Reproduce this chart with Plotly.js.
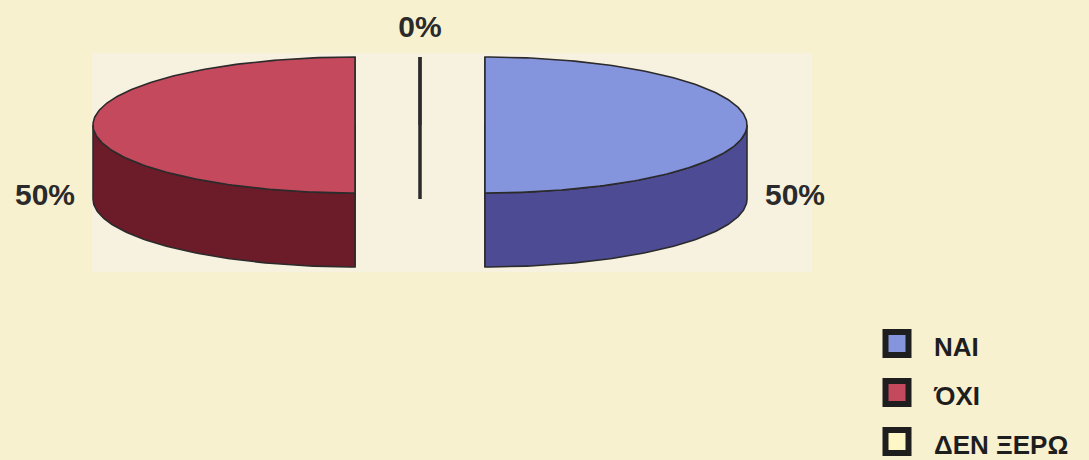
<!DOCTYPE html>
<html>
<head>
<meta charset="utf-8">
<script src="https://cdn.plot.ly/plotly-3.0.1.min.js"></script>
<style>
  html, body { margin: 0; padding: 0; background: #f8f1d0; }
  #chart { width: 1089px; height: 460px; }
</style>
</head>
<body>
<div id="chart"></div>
<script>
// Survey answers
const categories = ['NAI', 'ΌΧΙ', 'ΔΕΝ ΞΕΡΩ'];
const values = [50, 50, 0];

// Slice colours: top face, outer wall
const topColors  = ['#8595dd', '#c4495d', '#fcf7c4'];
const sideColors = ['#4d4b93', '#6c1b29', '#b9b28c'];

// 3D pie geometry (pixel units on both axes)
const CX = 420, CY = 125;      // centre of the top face
const RX = 262, RY = 68;       // top-face ellipse radii
const DEPTH = 74;              // thickness of the disc
const EXPLODE = 0.248;         // radial pull-out for non-empty slices
const EDGE = '#2b2b2b';

const W = 1089, H = 460;
const rad = d => d * Math.PI / 180;
const total = values.reduce((a, b) => a + b, 0);

function rimPoint(cx, cy, a, dz) {
  return [cx + RX * Math.sin(rad(a)), cy - RY * Math.cos(rad(a)) + dz];
}
function arc(cx, cy, a0, a1, dz) {
  const pts = [];
  const n = Math.max(1, Math.ceil(Math.abs(a1 - a0)));
  for (let k = 0; k <= n; k++) pts.push(rimPoint(cx, cy, a0 + (a1 - a0) * k / n, dz));
  return pts;
}
function poly(pts, fill, width) {
  const xs = pts.map(p => p[0]), ys = pts.map(p => p[1]);
  xs.push(pts[0][0]); ys.push(pts[0][1]);
  return {
    type: 'scatter', mode: 'lines', x: xs, y: ys,
    fill: 'toself', fillcolor: fill,
    line: { color: EDGE, width: width },
    hoverinfo: 'skip', showlegend: false
  };
}

const traces = [];
const labelX = [], labelY = [], labelText = [], labelPos = [];

let cum = 0;
values.forEach((v, i) => {
  const a0 = cum / total * 360;
  const a1 = (cum + v) / total * 360;
  cum += v;
  const mid = (a0 + a1) / 2;
  const ex = v > 0 ? EXPLODE : 0;
  const cx = CX + ex * RX * Math.sin(rad(mid));
  const cy = CY - ex * RY * Math.cos(rad(mid));
  const lw = v > 0 ? 1.6 : 3;

  // radial walls
  [a0, a1].forEach(a => {
    const t = rimPoint(cx, cy, a, 0), b = rimPoint(cx, cy, a, DEPTH);
    traces.push(poly([[cx, cy], t, b, [cx, cy + DEPTH]], sideColors[i], lw));
  });

  // front part of the outer wall
  const lo = Math.max(a0, 90), hi = Math.min(a1, 270);
  if (hi > lo) {
    const top = arc(cx, cy, lo, hi, 0);
    const bot = arc(cx, cy, hi, lo, DEPTH);
    traces.push(poly(top.concat(bot), sideColors[i], lw));
  }

  // top face
  traces.push(poly([[cx, cy]].concat(arc(cx, cy, a0, a1, 0)), topColors[i], lw));

  // percentage label outside the slice
  const s = Math.sin(rad(mid)), c = Math.cos(rad(mid));
  const gapX = 18, gapY = 28;
  labelX.push(cx + (RX + gapX) * s);
  labelY.push(cy - (RY + gapY) * c + (DEPTH - 2) * Math.abs(s));
  labelText.push(Math.round(v / total * 100) + '%');
  labelPos.push(s > 0.3 ? 'middle right' : (s < -0.3 ? 'middle left' : 'middle center'));
});

const labelFont = { family: 'Liberation Sans, Arial, sans-serif', size: 30, color: '#2a2a2a', weight: 700 };

traces.push({
  type: 'scatter', mode: 'text', x: labelX, y: labelY,
  text: labelText, textposition: labelPos, textfont: labelFont,
  hoverinfo: 'skip', showlegend: false
});

// Legend: framed swatches with category names
const LEG_X = 897, LEG_Y = 343.5, LEG_STEP = 49;
traces.push({
  type: 'scatter', mode: 'markers',
  x: categories.map(() => LEG_X),
  y: categories.map((_, i) => LEG_Y + i * LEG_STEP),
  marker: { symbol: 'square', size: 23, color: topColors, line: { color: '#1e1e1e', width: 6 } },
  hoverinfo: 'skip', showlegend: false
});
traces.push({
  type: 'scatter', mode: 'text',
  x: categories.map(() => 934),
  y: categories.map((_, i) => LEG_Y + 6 + i * LEG_STEP),
  text: categories, textposition: 'middle right',
  textfont: { family: 'Liberation Sans, Arial, sans-serif', size: 26, color: '#1e1e1e', weight: 700 },
  hoverinfo: 'skip', showlegend: false
});

const layout = {
  width: W, height: H,
  margin: { l: 0, r: 0, t: 0, b: 0 },
  paper_bgcolor: '#f8f1d0',
  plot_bgcolor: 'rgba(0,0,0,0)',
  xaxis: { range: [0, W], visible: false, fixedrange: true },
  yaxis: { range: [H, 0], visible: false, fixedrange: true },
  shapes: [{
    type: 'rect', xref: 'x', yref: 'y', x0: 92, x1: 812, y0: 53, y1: 272,
    fillcolor: '#f7f1e0', line: { width: 0 }, layer: 'below'
  }],
  showlegend: false
};

Plotly.newPlot('chart', traces, layout, { staticPlot: true });
</script>
</body>
</html>
